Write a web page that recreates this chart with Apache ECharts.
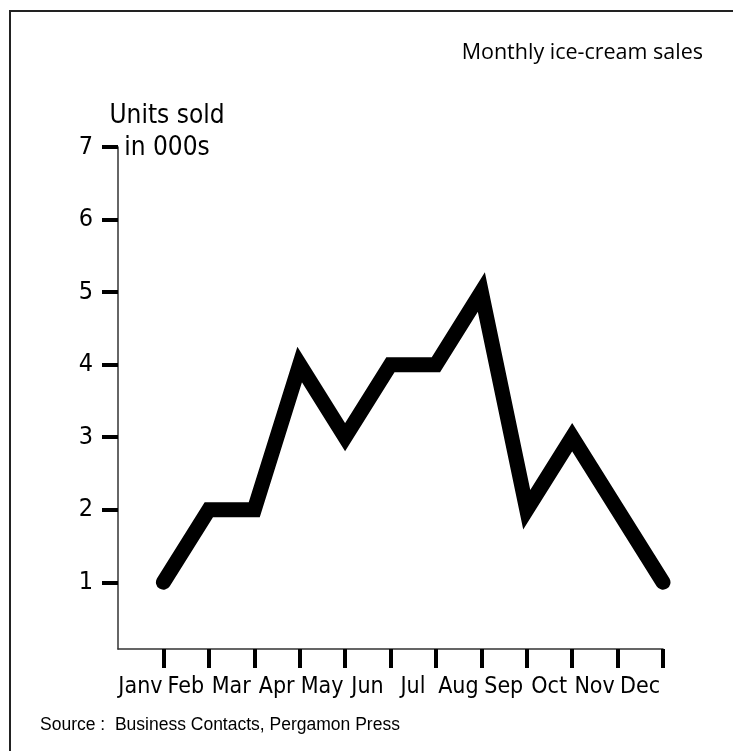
<!DOCTYPE html>
<html>
<head>
<meta charset="utf-8">
<script src="https://cdn.jsdelivr.net/npm/echarts@6/dist/echarts.min.js"></script>
<style>
  html, body { margin: 0; padding: 0; background: #fff; }
  #chart { width: 733px; height: 751px; }
</style>
</head>
<body>
<div id="chart"></div>
<script>
const months = ['Janv', 'Feb', 'Mar', 'Apr', 'May', 'Jun', 'Jul', 'Aug', 'Sep', 'Oct', 'Nov', 'Dec']
const unitsSold = [1, 2, 2, 4, 3, 4, 4, 5, 2, 3, 2, 1]
const yTicks = [1, 2, 3, 4, 5, 6, 7]
const xTicks = months.map((m, i) => i + 1)

const narrow = '"Liberation Sans Narrow", "DejaVu Sans Condensed", "Liberation Sans", sans-serif'

const chart = echarts.init(document.getElementById('chart'), null, { renderer: 'canvas' })

chart.setOption({
  animation: false,
  backgroundColor: '#fff',
  title: {
    text: 'Monthly ice-cream sales',
    right: 25,
    top: 37,
    textStyle: { fontFamily: '"Open Sans", sans-serif', fontSize: 21.5, fontWeight: 'normal', color: '#000' }
  },
  grid: { left: 118, right: 70, top: 147, bottom: 102 },
  xAxis: {
    type: 'value',
    min: 0,
    max: 12,
    splitLine: { show: false },
    axisLine: { lineStyle: { color: '#333', width: 1.5 } },
    axisTick: { customValues: xTicks, length: 19, lineStyle: { color: '#000', width: 4 } },
    axisLabel: {
      customValues: xTicks,
      formatter: v => months[v - 1],
      margin: 27,
      padding: [0, 46, 0, 0],
      fontFamily: narrow,
      fontSize: 23,
      color: '#000'
    }
  },
  yAxis: {
    type: 'value',
    min: 0.08,
    max: 7,
    splitLine: { show: false },
    axisLine: { show: true, lineStyle: { color: '#333', width: 1.5 } },
    axisTick: { show: true, customValues: yTicks, length: 16, lineStyle: { color: '#000', width: 4 } },
    axisLabel: {
      customValues: yTicks,
      margin: 25,
      fontFamily: narrow,
      fontSize: 25,
      color: '#000'
    }
  },
  graphic: [
    // frame, only top and left edges
    { type: 'line', shape: { x1: 9, y1: 11, x2: 733, y2: 11 }, style: { stroke: '#222', lineWidth: 2 } },
    { type: 'line', shape: { x1: 10, y1: 10, x2: 10, y2: 751 }, style: { stroke: '#222', lineWidth: 2 } },
    {
      type: 'text', x: 167, y: 132,
      style: {
        text: 'Units sold\nin 000s', align: 'center', verticalAlign: 'middle', lineHeight: 32,
        font: '26px "Liberation Sans Narrow", "DejaVu Sans Condensed", sans-serif', fill: '#000'
      }
    },
    {
      type: 'text', x: 40, y: 725,
      style: {
        text: 'Source :  Business Contacts, Pergamon Press', verticalAlign: 'middle',
        font: '17.5px "Liberation Sans", Arial, sans-serif', fill: '#000'
      }
    }
  ],
  series: [{
    type: 'line',
    data: unitsSold.map((v, i) => [xTicks[i], v]),
    symbol: 'none',
    lineStyle: { color: '#000', width: 15, cap: 'round', join: 'miter' }
  }]
})
</script>
</body>
</html>
